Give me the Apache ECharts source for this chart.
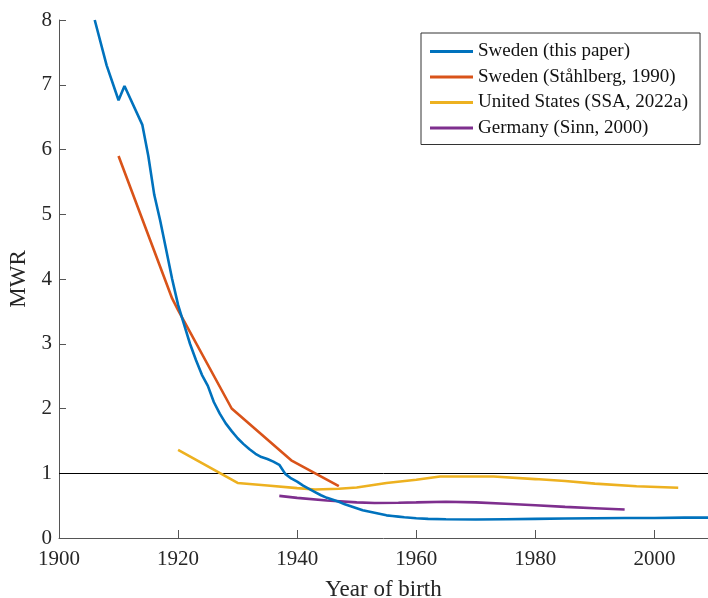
<!DOCTYPE html>
<html>
<head>
<meta charset="utf-8">
<script src="https://cdn.jsdelivr.net/npm/echarts@6/dist/echarts.min.js"></script>
<style>html,body{margin:0;padding:0;background:#fff}#c{width:708px;height:598px}</style>
</head>
<body>
<div id="c"></div>
<script>
var seriesNames = ['Sweden (this paper)', 'Sweden (Ståhlberg, 1990)', 'United States (SSA, 2022a)', 'Germany (Sinn, 2000)'];

var swedenYears = [1906,1908,1910,1911,1914,1915,1916,1917,1918,1919,1920,1921,1922,1923,1924,1925,1926,1927,1928,1929,1930,1931,1932,1933,1934,1935,1936,1937,1938,1939,1940,1941,1942,1943,1944,1945,1946,1947,1948,1949,1950,1951,1952,1953,1954,1955,1956,1957,1958,1960,1962,1965,1970,1975,1980,1985,1990,1995,2000,2005,2009];
var swedenMWR = [8.0,7.3,6.76,6.98,6.38,5.9,5.3,4.9,4.45,4.0,3.6,3.3,3.0,2.75,2.52,2.35,2.1,1.92,1.77,1.65,1.54,1.45,1.37,1.3,1.25,1.22,1.18,1.13,0.99,0.92,0.87,0.81,0.76,0.71,0.66,0.62,0.59,0.56,0.52,0.49,0.46,0.43,0.41,0.39,0.37,0.35,0.34,0.33,0.32,0.305,0.295,0.29,0.285,0.29,0.295,0.30,0.305,0.31,0.31,0.315,0.315];

var stahlbergYears = [1910,1919,1920,1929,1939,1947];
var stahlbergMWR = [5.9,3.7,3.52,2.0,1.2,0.8];

var usYears = [1920,1930,1935,1940,1943,1947,1950,1955,1960,1964,1973,1980,1985,1990,1997,2004];
var usMWR = [1.36,0.85,0.81,0.77,0.75,0.76,0.78,0.85,0.9,0.95,0.95,0.91,0.88,0.84,0.80,0.775];

var germanyYears = [1937,1940,1945,1950,1953,1957,1960,1965,1970,1975,1980,1985,1990,1995];
var germanyMWR = [0.65,0.62,0.58,0.55,0.54,0.545,0.55,0.56,0.55,0.53,0.505,0.48,0.46,0.44];

var referenceLevel = 1;
var xTicks = [1900,1920,1940,1960,1980,2000];

function pairs(xs, ys){ return xs.map(function(x,i){ return [x, ys[i]]; }); }

var FONT = 'Liberation Serif';
var colors = ['#0072BD','#D95319','#EDB120','#7E2F8E'];

var chart = echarts.init(document.getElementById('c'));
function mk(i, xs, ys, extra){
  var s = {
    name: seriesNames[i], type: 'line', data: pairs(xs, ys),
    symbol: 'none', showSymbol: false, smooth: false,
    lineStyle: {color: colors[i], width: 2.6},
    itemStyle: {color: colors[i]},
    z: 10 - i, animation: false
  };
  if (extra) for (var k in extra) s[k] = extra[k];
  return s;
}
chart.setOption({
  animation: false,
  color: colors,
  grid: {left: 59, right: 0, top: 20, bottom: 60, containLabel: false, outerBoundsMode: 'none'},
  legend: {
    orient: 'vertical', left: 421, top: 33,
    padding: [9, 12, 7, 9],
    itemWidth: 43, itemHeight: 14, itemGap: 6.5,
    borderColor: '#333', borderWidth: 1, backgroundColor: '#fff',
    textStyle: {fontFamily: FONT, fontSize: 19, color: '#111'},
    data: seriesNames.map(function(n){ return {name: n, icon: 'path://M0,0 L43,0 L43,3 L0,3 Z'}; })
  },
  xAxis: {
    type: 'value', min: 1900, max: 2009, interval: 20,
    name: 'Year of birth', nameLocation: 'middle', nameGap: 40,
    nameTextStyle: {fontFamily: FONT, fontSize: 23, color: '#262626'},
    axisLine: {show: true, lineStyle: {color: '#555', width: 1}},
    axisTick: {show: true, inside: true, length: 8, lineStyle: {color: '#555'}},
    axisLabel: {fontFamily: FONT, fontSize: 21, color: '#262626', margin: 11,
      formatter: function(v){ return xTicks.indexOf(v) >= 0 ? String(v) : ''; }},
    splitLine: {show: false}
  },
  yAxis: {
    type: 'value', min: 0, max: 8, interval: 1,
    name: 'MWR', nameLocation: 'middle', nameGap: 23,
    nameTextStyle: {fontFamily: FONT, fontSize: 23, color: '#262626'},
    axisLine: {show: true, lineStyle: {color: '#555', width: 1}},
    axisTick: {show: true, inside: true, length: 7, lineStyle: {color: '#555'}},
    axisLabel: {fontFamily: FONT, fontSize: 21, color: '#262626', margin: 7},
    splitLine: {show: false}
  },
  series: [
    mk(0, swedenYears, swedenMWR),
    mk(1, stahlbergYears, stahlbergMWR),
    mk(2, usYears, usMWR),
    mk(3, germanyYears, germanyMWR, {
      markLine: {silent: true, symbol: 'none', label: {show: false},
        lineStyle: {color: '#000', width: 1, type: 'solid'},
        data: [{yAxis: referenceLevel}]}
    })
  ]
});
</script>
</body>
</html>
